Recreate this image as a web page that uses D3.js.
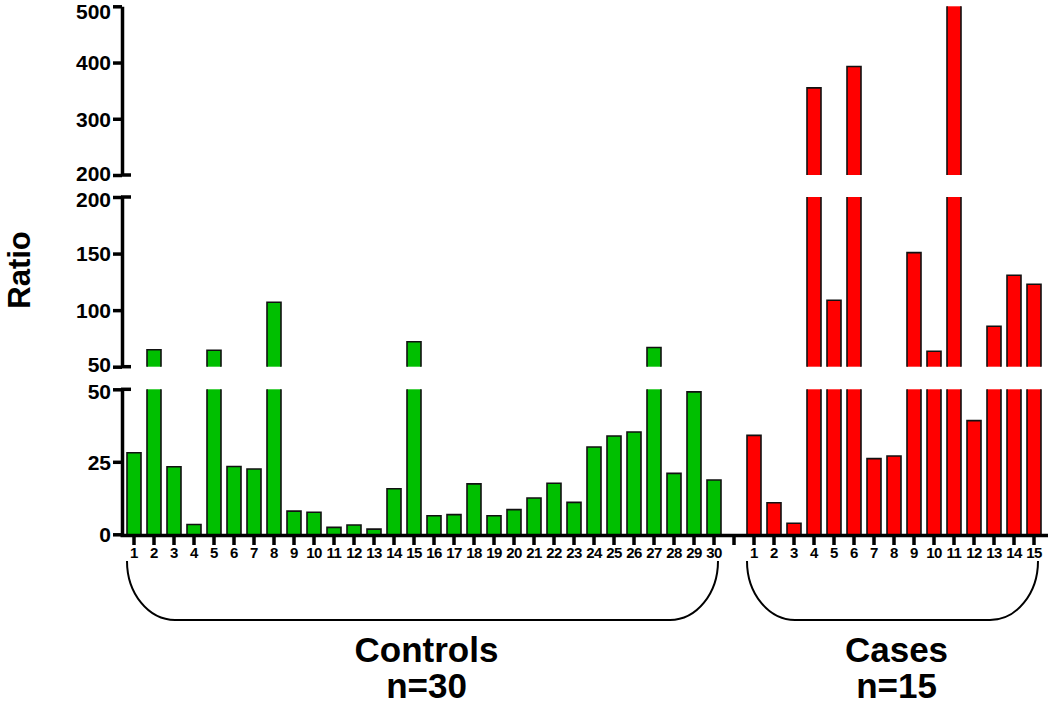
<!DOCTYPE html>
<html><head><meta charset="utf-8">
<script src="https://cdn.jsdelivr.net/npm/d3@7"></script>
<style>
html,body{margin:0;padding:0;background:#fff;}
text{font-family:"Liberation Sans",Arial,Helvetica,sans-serif;font-weight:bold;}
</style></head>
<body><svg id="c" width="1050" height="707"></svg>
<script>
const controlLabels = d3.range(1,31).map(String);
const controlValues = [28.1,65,23.3,3.4,64.5,23.4,22.5,107,8.0,7.6,2.4,3.2,1.8,15.7,72,6.4,6.8,17.4,6.4,8.5,12.5,17.6,11.0,30.1,33.9,35.3,67,21.0,49.1,18.7];
const caseLabels = d3.range(1,16).map(String);
const caseValues = [34.1,10.9,3.8,355,108.7,393,26.1,27.0,150.8,63.6,500,39.2,85.7,130.8,122.9];
const bottomTicks = [0,25,50];
const middleTicks = [50,100,150,200];
const topTicks = [200,300,400,500];
const groupNames = ["Controls","Cases"];
const groupCounts = ["n=30","n=15"];
const colors = {Controls:"#00bf00", Cases:"#ff0000"};

const svg = d3.select("#c");
const keys = controlLabels.map(d=>"c"+d).concat(["gap"]).concat(caseLabels.map(d=>"k"+d));
const x = d3.scaleBand().domain(keys).range([124,1044]).paddingInner(0.3).paddingOuter(0.15);

const segs = [
  {s:d3.scaleLinear().domain([0,50]).range([534.3,389.3]), ticks:bottomTicks},
  {s:d3.scaleLinear().domain([50,200]).range([366.7,197]), ticks:middleTicks},
  {s:d3.scaleLinear().domain([200,500]).range([175,6.3]), ticks:topTicks}
];

const bars = controlValues.map((v,i)=>({key:"c"+controlLabels[i],v,g:"Controls"}))
  .concat(caseValues.map((v,i)=>({key:"k"+caseLabels[i],v,g:"Cases"})));

const barG = svg.append("g");
segs.forEach(seg=>{
  const [a,b] = seg.s.domain();
  bars.filter(d=>d.v>a).forEach(d=>{
    const top = Math.min(d.v,b);
    const x0 = x(d.key), w = x.bandwidth();
    const y0 = seg.s(a), y1 = seg.s(top);
    barG.append("rect").attr("x",x0).attr("y",y1).attr("width",w).attr("height",y0-y1)
      .attr("fill",colors[d.g]);
    let p = `M${x0},${y0}L${x0},${y1}`;
    if (d.v<b) p += `L${x0+w},${y1}`; else p += `M${x0+w},${y1}`;
    p += `L${x0+w},${y0}`;
    barG.append("path").attr("d",p).attr("fill","none").attr("stroke","#111").attr("stroke-width",1.6);
  });
});

// Y axes segments
segs.forEach((seg,i)=>{
  const [a,b] = seg.s.domain();
  const g = svg.append("g").attr("transform","translate(122,0)")
    .call(d3.axisLeft(seg.s).tickValues(seg.ticks).tickSize(9).tickSizeOuter(0).tickPadding(2));
  g.select(".domain").attr("stroke","#000").attr("stroke-width",3.5);
  g.selectAll(".tick line").attr("stroke","#000").attr("stroke-width",3.5);
  g.selectAll(".tick text").attr("font-size",21).attr("fill","#000")
    .attr("font-family","Liberation Sans, Arial, sans-serif").attr("font-weight","bold")
    .attr("dy", v=> v===500 ? "0.6em" : (v===a && i>0 ? "0.25em" : (v===b && i<2 ? "0.45em" : "0.35em")));
  const ends = i===0 ? [b] : (i===1 ? [a,b] : [a]);
  ends.forEach(v=>{
    g.append("line").attr("x1",-1).attr("x2",9).attr("y1",seg.s(v)).attr("y2",seg.s(v))
      .attr("stroke","#000").attr("stroke-width",3.5);
  });
});

// X axis
const xa = svg.append("g").attr("transform","translate(0,535)")
  .call(d3.axisBottom(x).tickSize(10).tickSizeOuter(0).tickPadding(2)
    .tickFormat(k=> k==="gap" ? "" : k.slice(1)));
xa.select(".domain").attr("d","M120.5,0.5H1048").attr("stroke","#000").attr("stroke-width",3.5);
xa.selectAll(".tick line").attr("stroke","#000").attr("stroke-width",3.5);
xa.selectAll(".tick text").attr("font-size",15).attr("fill","#000")
  .attr("font-family","Liberation Sans, Arial, sans-serif").attr("font-weight","bold").attr("letter-spacing","-0.5");

// Y title
svg.append("text").attr("transform","translate(30,270) rotate(-90)").attr("text-anchor","middle")
  .attr("font-size",31).attr("fill","#000").text("Ratio");

// Braces
function brace(xl,xr,yTop,yBot,rx){
  return `M${xl},${yTop} A${rx},${yBot-yTop} 0 0 0 ${xl+rx},${yBot} L${xr-rx},${yBot} A${rx},${yBot-yTop} 0 0 0 ${xr},${yTop}`;
}
const groups = [
  {name:groupNames[0], n:groupCounts[0], first:"c1", last:"c30"},
  {name:groupNames[1], n:groupCounts[1], first:"k1", last:"k15"}
];
groups.forEach(g=>{
  const xl = x(g.first)+x.bandwidth()/2-7, xr = x(g.last)+x.bandwidth()/2+4;
  svg.append("path").attr("d",brace(xl,xr,561,620,48)).attr("fill","none").attr("stroke","#000").attr("stroke-width",2);
  const cx = (xl+xr)/2+4;
  svg.append("text").attr("x",cx).attr("y",662).attr("text-anchor","middle").attr("font-size",35).attr("fill","#000").text(g.name);
  svg.append("text").attr("x",cx).attr("y",698).attr("text-anchor","middle").attr("font-size",35).attr("fill","#000").text(g.n);
});
</script></body></html>
